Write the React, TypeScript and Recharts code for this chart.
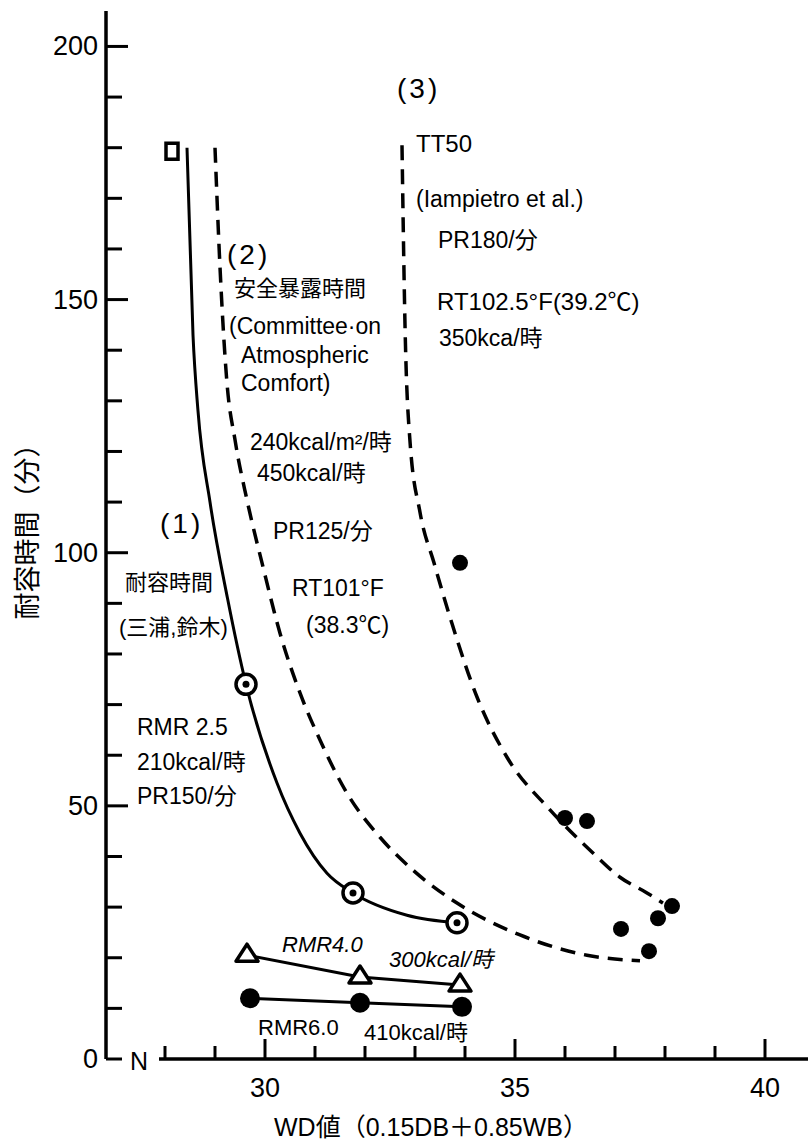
import React from 'react';
import { ComposedChart, Line, Scatter, XAxis, YAxis, ReferenceLine } from 'recharts';

// axis ticks
const xTicks = [28, 29, 30, 31, 32, 33, 34, 35, 36, 37, 38, 39, 40];
const xLabelTicks = [30, 35, 40];
const yTicks = [0, 10, 20, 30, 40, 50, 60, 70, 80, 90, 100, 110, 120, 130, 140, 150, 160, 170, 180, 190, 200];
const yLabelTicks = [0, 50, 100, 150, 200];

// (1) 耐容時間 (三浦, 鈴木) – solid curve, RMR 2.5
const toleranceCurve = [
  { x: 28.44, y: 180 },
  { x: 28.56, y: 143 },
  { x: 28.66, y: 128 },
  { x: 28.9, y: 110 },
  { x: 29.25, y: 91 },
  { x: 29.62, y: 74 },
  { x: 30.24, y: 54.5 },
  { x: 30.7, y: 44.6 },
  { x: 31.24, y: 36.7 },
  { x: 31.76, y: 32.8 },
  { x: 32.84, y: 28.4 },
  { x: 33.84, y: 26.9 },
];
const toleranceReadings = [
  { x: 29.62, y: 74 },
  { x: 31.76, y: 32.8 },
  { x: 33.84, y: 26.9 },
];
const toleranceStart = [{ x: 28.14, y: 179.3 }];

// (2) 安全暴露時間 (Committee on Atmospheric Comfort)
const safeExposureCurve = [
  { x: 29.0, y: 180 },
  { x: 29.1, y: 156.4 },
  { x: 29.24, y: 133.5 },
  { x: 29.4, y: 122.3 },
  { x: 29.64, y: 110.4 },
  { x: 29.96, y: 97.2 },
  { x: 30.3, y: 84.1 },
  { x: 30.7, y: 72.3 },
  { x: 31.1, y: 63 },
  { x: 31.64, y: 52.5 },
  { x: 32.3, y: 43.8 },
  { x: 32.96, y: 37.3 },
  { x: 33.84, y: 30.8 },
  { x: 35.1, y: 24.5 },
  { x: 36.44, y: 20.5 },
  { x: 37.5, y: 19.4 },
];

// (3) TT50 (Iampietro et al.)
const tt50Curve = [
  { x: 32.74, y: 180.5 },
  { x: 32.8, y: 145 },
  { x: 32.9, y: 122 },
  { x: 33.1, y: 108 },
  { x: 33.38, y: 98 },
  { x: 33.74, y: 86 },
  { x: 34.24, y: 71.5 },
  { x: 34.84, y: 59.6 },
  { x: 35.7, y: 49.2 },
  { x: 36.56, y: 40.7 },
  { x: 37.1, y: 35.9 },
  { x: 37.64, y: 32.8 },
  { x: 37.96, y: 30.8 },
];
const tt50Readings = [
  { x: 33.9, y: 98 },
  { x: 36.0, y: 47.6 },
  { x: 36.44, y: 47 },
  { x: 38.14, y: 30.2 },
  { x: 37.86, y: 27.8 },
  { x: 37.12, y: 25.7 },
  { x: 37.68, y: 21.3 },
];

// RMR 4.0 (300 kcal/時) and RMR 6.0 (410 kcal/時)
const rmr40 = [
  { x: 29.64, y: 20.5 },
  { x: 31.9, y: 16.2 },
  { x: 33.9, y: 14.6 },
];
const rmr60 = [
  { x: 29.7, y: 12 },
  { x: 31.9, y: 11.1 },
  { x: 33.94, y: 10.3 },
];

const INK = '#000';
const FONT = "'Liberation Sans', 'Noto Sans CJK JP', sans-serif";

const notes = [
  { text: '(3)', x: 397, y: 88, size: 28, spacing: 3 },
  { text: 'TT50', x: 416, y: 143, size: 24 },
  { text: '(Iampietro et al.)', x: 416, y: 199, size: 23 },
  { text: 'PR180/分', x: 438, y: 240, size: 23 },
  { text: 'RT102.5°F(39.2℃)', x: 437, y: 301, size: 24 },
  { text: '350kca/時', x: 439, y: 338, size: 23 },
  { text: '(2)', x: 227, y: 254, size: 28, spacing: 3 },
  { text: '安全暴露時間', x: 234, y: 288, size: 22 },
  { text: '(Committee·on', x: 229, y: 326, size: 23 },
  { text: 'Atmospheric', x: 241, y: 355, size: 23 },
  { text: 'Comfort)', x: 241, y: 383, size: 23 },
  { text: '240kcal/m²/時', x: 250, y: 442, size: 23 },
  { text: '450kcal/時', x: 257, y: 473, size: 23 },
  { text: '(1)', x: 160, y: 523, size: 28, spacing: 3 },
  { text: 'PR125/分', x: 273, y: 531, size: 23 },
  { text: '耐容時間', x: 125, y: 582, size: 22 },
  { text: 'RT101°F', x: 292, y: 588, size: 23 },
  { text: '(三浦,鈴木)', x: 119, y: 627, size: 22 },
  { text: '(38.3℃)', x: 306, y: 625, size: 23 },
  { text: 'RMR 2.5', x: 137, y: 727, size: 23 },
  { text: '210kcal/時', x: 137, y: 762, size: 23 },
  { text: 'PR150/分', x: 137, y: 796, size: 23 },
  { text: 'RMR4.0', x: 282, y: 944, size: 22, italic: true },
  { text: '300kcal/時', x: 389, y: 959, size: 22, italic: true },
  { text: 'RMR6.0', x: 258, y: 1027, size: 22 },
  { text: '410kcal/時', x: 364, y: 1032, size: 22 },
];

const XTick = ({ x, y, payload }: any) => {
  const major = xLabelTicks.includes(payload.value);
  return (
    <g>
      <line x1={x} y1={y} x2={x} y2={y - (major ? 20 : 13)} stroke={INK} strokeWidth={3} />
      {major && (
        <text x={x} y={y + 29} textAnchor="middle" dominantBaseline="central" fontSize={27} fontFamily={FONT} fill={INK}>
          {payload.value}
        </text>
      )}
    </g>
  );
};

const YTick = ({ x, y, payload }: any) => {
  const labeled = yLabelTicks.includes(payload.value);
  const len = labeled && payload.value !== 0 ? 22 : 16;
  return (
    <g>
      <line x1={x} y1={y} x2={x + len} y2={y} stroke={INK} strokeWidth={3} />
      {labeled && (
        <text x={x - 8} y={y} textAnchor="end" dominantBaseline="central" fontSize={27} fontFamily={FONT} fill={INK}>
          {payload.value}
        </text>
      )}
    </g>
  );
};

const RingMark = ({ cx, cy }: any) => (
  <g>
    <circle cx={cx} cy={cy} r={10} fill="#fff" stroke={INK} strokeWidth={3.5} />
    <circle cx={cx} cy={cy} r={3.5} fill={INK} />
  </g>
);

const SquareMark = ({ cx, cy }: any) => (
  <rect x={cx - 6} y={cy - 8} width={12} height={16} fill="#fff" stroke={INK} strokeWidth={3.5} />
);

const DotMark = ({ cx, cy }: any) => <circle cx={cx} cy={cy} r={8} fill={INK} />;

const TriangleDot = (props: any) => {
  const { cx, cy, index } = props;
  return (
    <path
      key={`tri-${index}`}
      d={`M${cx},${cy - 11} L${cx + 11},${cy + 6} L${cx - 11},${cy + 6} Z`}
      fill="#fff"
      stroke={INK}
      strokeWidth={3.5}
      strokeLinejoin="round"
    />
  );
};

const BigDot = (props: any) => {
  const { cx, cy, index } = props;
  return <circle key={`big-${index}`} cx={cx} cy={cy} r={10} fill={INK} />;
};

export default function App() {
  return (
    <div style={{ position: 'absolute', left: 0, top: 0, width: 808, height: 1141, background: '#fff' }}>
      <ComposedChart width={808} height={1141} margin={{ top: 11, right: 0, bottom: 0, left: 0 }}>
        <XAxis
          type="number"
          dataKey="x"
          domain={[26.82, 40.86]}
          ticks={xTicks}
          interval={0}
          allowDataOverflow
          axisLine={false}
          tickLine={false}
          tickSize={0}
          tickMargin={0}
          height={82}
          tick={<XTick />}
        />
        <YAxis
          type="number"
          domain={[0, 207]}
          ticks={yTicks}
          interval={0}
          allowDataOverflow
          width={106}
          axisLine={{ stroke: INK, strokeWidth: 3.5 }}
          tickLine={false}
          tickSize={0}
          tickMargin={0}
          tick={<YTick />}
        />
        <ReferenceLine
          segment={[{ x: 27.88, y: 0 }, { x: 40.86, y: 0 }]}
          stroke={INK}
          strokeWidth={3.5}
          ifOverflow="visible"
        />
        <Line data={toleranceCurve} dataKey="y" type="monotone" stroke={INK} strokeWidth={3} dot={false} isAnimationActive={false} />
        <Line data={safeExposureCurve} dataKey="y" type="monotone" stroke={INK} strokeWidth={3.5} strokeDasharray="15 9" dot={false} isAnimationActive={false} />
        <Line data={tt50Curve} dataKey="y" type="monotone" stroke={INK} strokeWidth={3.5} strokeDasharray="15 9" dot={false} isAnimationActive={false} />
        <Line data={rmr40} dataKey="y" type="linear" stroke={INK} strokeWidth={3} dot={TriangleDot} isAnimationActive={false} />
        <Line data={rmr60} dataKey="y" type="linear" stroke={INK} strokeWidth={3} dot={BigDot} isAnimationActive={false} />
        <Scatter data={toleranceReadings} dataKey="y" shape={RingMark} isAnimationActive={false} />
        <Scatter data={toleranceStart} dataKey="y" shape={SquareMark} isAnimationActive={false} />
        <Scatter data={tt50Readings} dataKey="y" shape={DotMark} isAnimationActive={false} />
        <g fontFamily={FONT} fill={INK}>
          {notes.map((n) => (
            <text
              key={n.text}
              x={n.x}
              y={n.y}
              dominantBaseline="central"
              fontSize={n.size}
              fontStyle={n.italic ? 'italic' : 'normal'}
              letterSpacing={n.spacing ?? 0}
            >
              {n.text}
            </text>
          ))}
          <text x={130} y={1061} dominantBaseline="central" fontSize={25}>N</text>
          <text x={431} y={1127} textAnchor="middle" dominantBaseline="central" fontSize={25}>WD値（0.15DB＋0.85WB）</text>
          <text
            x={28}
            y={525}
            textAnchor="middle"
            dominantBaseline="central"
            fontSize={27}
            transform="rotate(-90 28 525)"
          >
            耐容時間（分）
          </text>
        </g>
      </ComposedChart>
    </div>
  );
}
